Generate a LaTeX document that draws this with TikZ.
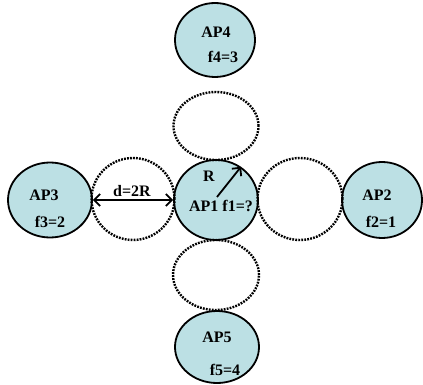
\documentclass[tikz,border=0pt]{standalone}
\usepackage{fontspec}
\setmainfont{Liberation Serif}
\usetikzlibrary{shapes.geometric,arrows.meta}
\definecolor{apfill}{RGB}{188,224,228}
\tikzset{
  apnode/.style={ellipse, draw=black, line width=1.8pt, fill=apfill, inner sep=0pt},
  dotnode/.style={ellipse, draw=black, line width=2.4pt, dash pattern=on 1.8pt off 1.2pt, inner sep=0pt},
  lbl/.style={font=\fontsize{16}{16}\selectfont\bfseries, inner sep=0pt},
  arr/.style={line width=1.8pt, {Straight Barb[length=6pt,width=12pt,line width=1.8pt]}-{Straight Barb[length=6pt,width=12pt,line width=1.8pt]}},
  rarr/.style={line width=1.8pt, -{Straight Barb[length=6pt,width=12pt,line width=1.8pt]}}
}
\begin{document}
\begin{tikzpicture}[x=1pt,y=-1pt]
\useasboundingbox (0,0) rectangle (423,385);
% filled access points
\node[apnode, minimum width=80pt, minimum height=74pt] (ap4) at (215,40) {};
\node[apnode, minimum width=84pt, minimum height=75pt] (ap3) at (50,200) {};
\node[apnode, minimum width=84pt, minimum height=80pt] (ap1) at (216,200) {};
\node[apnode, minimum width=80pt, minimum height=76pt] (ap2) at (382,200) {};
\node[apnode, minimum width=84pt, minimum height=72pt] (ap5) at (217,347) {};
% dotted ellipses
\node[dotnode, minimum width=85pt, minimum height=68pt] (dt) at (216,126) {};
\node[dotnode, minimum width=83pt, minimum height=82pt] (dl) at (133,199) {};
\node[dotnode, minimum width=85pt, minimum height=82pt] (dr) at (300,199) {};
\node[dotnode, minimum width=86pt, minimum height=70pt] (db) at (216,275) {};
% labels
\node[lbl] (t4a) at (216,32) {AP4};
\node[lbl] (t4b) at (223,57) {f4=3};
\node[lbl] (t3a) at (44,195) {AP3};
\node[lbl] (t3b) at (50,222) {f3=2};
\node[lbl] (t2a) at (377,195) {AP2};
\node[lbl] (t2b) at (381,222) {f2=1};
\node[lbl] (t1) at (221,206) {AP1 f1=?};
\node[lbl] (tr) at (209,176) {R};
\node[lbl] (td) at (132,191) {d=2R};
\node[lbl] (t5a) at (217,337) {AP5};
\node[lbl] (t5b) at (225,370) {f5=4};
% connectors
\draw[arr] (ap3.east) -- (ap1.west);
\coordinate (rc) at (217,197);
\draw[rarr] (rc) -- (ap1.53);
\end{tikzpicture}
\end{document}
